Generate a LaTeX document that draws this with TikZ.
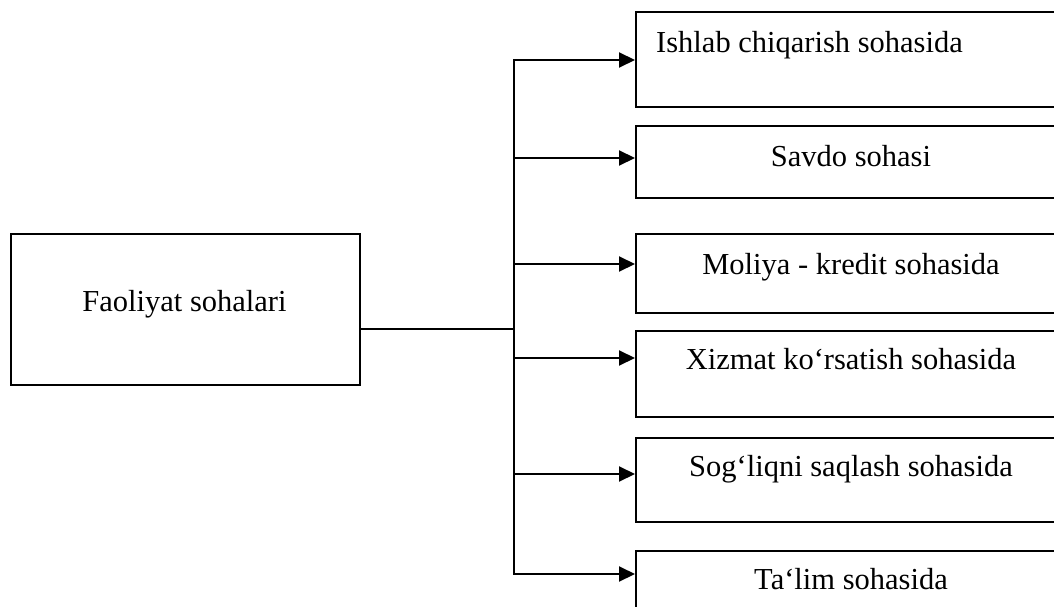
\documentclass[tikz,border=0pt]{standalone}
\usepackage{fontspec}
\setmainfont{Liberation Serif}
\usetikzlibrary{arrows.meta}
\begin{document}
\begin{tikzpicture}[x=1pt,y=-1pt,
  box/.style={draw=black,line width=2pt,rectangle,inner sep=0pt,anchor=north west},
  txt/.style={font=\fontsize{30.5}{36}\selectfont,inner sep=0pt,anchor=base},
  conn/.style={draw=black,line width=2pt},
  arr/.style={conn,-{Triangle[length=16pt,width=15pt]}}]
\useasboundingbox (0,0) rectangle (1054,607);
\clip (0,0) rectangle (1054,607);
\fill[white] (0,0) rectangle (1054,607);
% left box
\node[box,minimum width=349pt,minimum height=151pt] (L) at (10,233) {};
\node[txt] (Lt) at (184.5,311) {Faoliyat sohalari};
% right boxes
\node[box,minimum width=432pt,minimum height=95pt] (b1) at (635,11) {};
\node[box,minimum width=432pt,minimum height=72pt] (b2) at (635,125) {};
\node[box,minimum width=432pt,minimum height=79pt] (b3) at (635,233) {};
\node[box,minimum width=432pt,minimum height=86pt] (b4) at (635,330) {};
\node[box,minimum width=432pt,minimum height=84pt] (b5) at (635,437) {};
\node[box,minimum width=432pt,minimum height=85pt] (b6) at (635,550) {};
\node[txt,anchor=base west] (t1) at (656,53) {Ishlab chiqarish sohasida};
\node[txt] (t2) at (851,166) {Savdo sohasi};
\node[txt] (t3) at (851,274) {Moliya - kredit sohasida};
\node[txt] (t4) at (851,369) {Xizmat ko‘rsatish sohasida};
\node[txt] (t5) at (851,476) {Sog‘liqni saqlash sohasida};
\node[txt] (t6) at (851,589) {Ta‘lim sohasida};
% junctions
\coordinate (j1) at (514,60);
\coordinate (j2) at (514,158);
\coordinate (j3) at (514,264);
\coordinate (j4) at (514,358);
\coordinate (j5) at (514,474);
\coordinate (j6) at (514,574);
\coordinate (jm) at (514,329);
\draw[conn] (L.east |- jm) -- (jm);
\draw[conn,line cap=rect] (j1) -- (j6);
\draw[arr] (j1) -- (b1.west |- j1);
\draw[arr] (j2) -- (b2.west |- j2);
\draw[arr] (j3) -- (b3.west |- j3);
\draw[arr] (j4) -- (b4.west |- j4);
\draw[arr] (j5) -- (b5.west |- j5);
\draw[arr] (j6) -- (b6.west |- j6);
\end{tikzpicture}
\end{document}
